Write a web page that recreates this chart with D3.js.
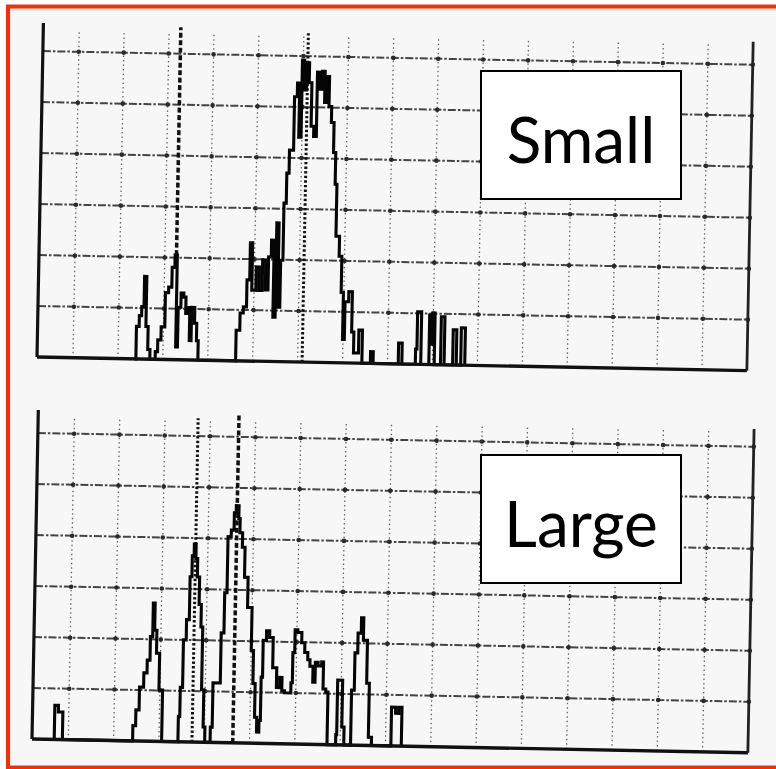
<!DOCTYPE html>
<html>
<head>
<meta charset="utf-8">
<script src="https://cdn.jsdelivr.net/npm/d3@7"></script>
<style>
  html, body { margin: 0; padding: 0; background: #fff; }
  svg { display: block; }
</style>
</head>
<body>
<svg id="chart" width="776" height="769"></svg>
<script>
// step histogram points (x = channel, y = counts)
const smallX = [13.7, 14.0, 14.6, 15.1, 15.6, 16.1, 16.6, 17.1,
  18.1, 18.3, 18.8, 19.5, 20.3, 21.0, 21.7, 22.3, 22.8, 23.2, 23.8, 24.4, 24.9, 25.3, 25.8, 26.2, 26.9, 27.4, 27.8,
  36.0, 36.2, 37.0, 37.7, 38.4, 39.0, 39.5, 40.4, 41.1, 41.8, 42.5, 43.1, 43.7, 44.3, 44.8, 45.3, 45.8, 46.3, 46.8, 47.3,
  48.2, 48.8, 49.3, 49.8, 50.3, 50.8, 51.4, 52.0, 52.6, 53.2, 53.8, 54.3, 54.9, 55.4, 55.9, 56.5, 57.1, 57.6, 58.0, 58.8,
  59.4, 59.9, 60.3, 61.1, 61.9, 62.4, 63.5, 64.3,
  66.2, 66.8, 72.4, 73.2, 76.2, 76.5, 77.4, 79.2, 79.6, 79.9, 80.4, 81.8, 82.6, 84.5, 85.3, 86.3, 87.2];
const smallY = [0, 6.4, 8.5, 10.3, 16.2, 6.4, 1.9, 0,
  0, 1.5, 3.8, 6.4, 13.1, 14.2, 18.1, 20.5, 2.5, 10.3, 13.1, 12.3, 9.1, 10.3, 3.8, 10.3, 7.2, 3.8, 0,
  0, 6.0, 9.4, 10.6, 15.9, 23.2, 13.9, 18.5, 13.9, 19.9, 14.0, 20.5, 23.8, 8.7, 27.2, 10.7, 19.9, 31.1, 37.0, 41.5,
  52.0, 54.7, 44.1, 59.2, 53.4, 58.7, 54.8, 46.3, 44.3, 56.9, 53.6, 57.1, 51.0, 56.1, 50.2, 47.1, 41.2, 35.0, 24.8, 20.9,
  13.8, 4.6, 12.0, 14.0, 6.1, 2.0, 6.5, 0,
  2.3, 0, 4.1, 0, 3.0, 10.3, 0, 9.7, 4.0, 10.1, 0, 9.4, 0, 6.9, 0, 7.3, 0];

const largeX = [-3.4, -3.1, -2.3, -1.3,
  14.0, 14.2, 14.8, 15.5, 16.4, 17.1, 17.7, 18.2, 18.6, 19.1, 19.8, 20.6,
  24.0, 24.2, 24.5, 25.0, 25.6, 26.2, 26.6, 27.0, 27.4, 27.8, 28.3, 28.8, 29.2, 29.7, 30.1,
  31.1, 31.3, 31.7, 33.3, 33.9, 34.4, 35.1, 35.7, 36.1, 36.7, 37.0, 37.6, 38.2, 39.0, 40.0, 40.5, 41.0, 41.5, 42.0, 42.3,
  42.6, 43.3, 44.0, 44.8, 45.7, 46.4, 46.9, 47.5, 48.9, 49.2, 49.6, 50.2, 51.1, 51.8, 52.5, 53.0, 53.7, 54.2, 54.8, 55.6,
  56.0, 56.6, 57.1,
  58.8, 59.0, 59.2, 60.3, 60.8,
  62.0, 62.3, 62.9, 63.5, 64.2, 64.7, 65.6, 66.2, 66.9,
  71.0, 71.2, 72.1, 72.8, 73.5];
const largeY = [0, 6.7, 5.4, 0,
  0, 3.0, 6.1, 10.6, 13.4, 15.9, 20.5, 27.1, 21.8, 17.3, 10.1, 0,
  0, 5.0, 10.7, 20.0, 24.0, 32.4, 36.5, 38.8, 36.0, 32.4, 27.0, 22.6, 10.3, 3.0, 0,
  0, 3.0, 11.7, 21.5, 29.4, 40.4, 41.7, 45.1, 46.5, 44.0, 41.2, 38.4, 32.5, 26.6, 18.2, 11.7, 5.1, 2.2, 4.5, 13.0,
  20.2, 22.1, 20.8, 14.9, 11.0, 13.0, 10.4, 10.0, 12.0, 17.9, 22.4, 21.9, 19.9, 18.0, 16.6, 15.3, 12.2, 16.1, 15.4, 16.2,
  10.9, 10.3, 0,
  0, 2.0, 12.7, 3.5, 0,
  0, 10.8, 18.1, 22.0, 25.0, 20.6, 12.2, 1.6, 0,
  0, 7.6, 6.4, 7.6, 0];

// vertical marker lines: [dashed, dotted]
const smallMarks = [22.6, 51.0];
const largeMarks = [36.3, 27.3];

const gridX = [0, 10, 20, 30, 40, 50, 60, 70, 80, 90, 100, 110, 120, 130, 140];
const gridY = [10, 20, 30, 40, 50, 60];
const labels = ['Small', 'Large'];

const svg = d3.select('#chart');
const tilt = 1.1; // the scan is slightly rotated

svg.append('rect')
  .attr('x', 8).attr('y', 6.5).attr('width', 800).attr('height', 761)
  .attr('fill', '#f7f7f7')
  .attr('stroke', '#ff2a00')
  .attr('stroke-width', 4);

function stepAt(xs, ys, v) {
  let k = 0;
  for (let i = 0; i < xs.length; i++) if (xs[i] <= v) k = i;
  return ys[k];
}

function panel(cfg) {
  const W = cfg.w, H = cfg.h;
  const x = d3.scaleLinear().domain([-8, 150]).range([0, W]);
  const y = d3.scaleLinear().domain([0, cfg.yMax]).range([H, 0]);

  const g = svg.append('g')
    .attr('transform', `translate(${cfg.ox},${cfg.oy}) rotate(${tilt}) translate(0,${-H})`);

  // vertical grid (dotted)
  g.append('g').selectAll('line').data(gridX).join('line')
    .attr('x1', d => x(d)).attr('x2', d => x(d))
    .attr('y1', y(0)).attr('y2', y(cfg.yMax - 1.5))
    .attr('stroke', '#666').attr('stroke-width', 1.3)
    .attr('stroke-dasharray', '1.5,3');

  // horizontal grid (dash-dot)
  g.append('g').selectAll('line').data(gridY).join('line')
    .attr('x1', x(-8)).attr('x2', x(150))
    .attr('y1', d => y(d)).attr('y2', d => y(d))
    .attr('stroke', '#444').attr('stroke-width', 2)
    .attr('stroke-dasharray', '8,2,2.5,2');

  // dots where the grid crosses
  const pts = [];
  gridY.forEach(v => gridX.concat([150]).forEach(u => pts.push([u, v])));
  g.append('g').selectAll('circle').data(pts).join('circle')
    .attr('cx', d => x(d[0])).attr('cy', d => y(d[1]))
    .attr('r', 2.3).attr('fill', '#2a2a2a');

  // axes
  g.append('line')
    .attr('x1', x(-8)).attr('x2', x(-8)).attr('y1', y(0)).attr('y2', y(cfg.yMax))
    .attr('stroke', '#111').attr('stroke-width', 3.2);
  g.append('line')
    .attr('x1', x(150)).attr('x2', x(150)).attr('y1', y(0)).attr('y2', y(cfg.yMax - 1))
    .attr('stroke', '#222').attr('stroke-width', 2.8);

  // marker lines
  const [dashX, dotX] = cfg.marks;
  g.append('line')
    .attr('x1', x(dashX)).attr('x2', x(dashX))
    .attr('y1', cfg.dashToCurve ? y(stepAt(cfg.xs, cfg.ys, dashX)) : y(0))
    .attr('y2', y(cfg.yMax - 0.3))
    .attr('stroke', '#111').attr('stroke-width', 3.5)
    .attr('stroke-dasharray', '5,2.5');
  g.append('line')
    .attr('x1', x(dotX)).attr('x2', x(dotX))
    .attr('y1', y(0)).attr('y2', y(cfg.yMax - 1))
    .attr('stroke', '#111').attr('stroke-width', 3)
    .attr('stroke-dasharray', '2.4,2.2');

  // histogram outline
  const line = d3.line()
    .x(i => x(cfg.xs[i]))
    .y(i => y(cfg.ys[i]))
    .curve(d3.curveStepAfter);
  g.append('path')
    .datum(d3.range(cfg.xs.length))
    .attr('d', line)
    .attr('fill', 'none')
    .attr('stroke', '#050505')
    .attr('stroke-width', 3.1)
    .attr('stroke-linejoin', 'miter');

  // baseline
  g.append('line')
    .attr('x1', x(-8)).attr('x2', x(150)).attr('y1', y(0)).attr('y2', y(0))
    .attr('stroke', '#111').attr('stroke-width', 3.4);

  // label box
  svg.append('rect')
    .attr('x', 481).attr('y', cfg.boxY).attr('width', 200).attr('height', 128)
    .attr('fill', '#fff').attr('stroke', '#000').attr('stroke-width', 2);
  svg.append('text')
    .attr('x', 581).attr('y', cfg.boxY + 92)
    .attr('text-anchor', 'middle')
    .attr('font-family', 'Lato, "Open Sans", sans-serif')
    .attr('font-size', 64)
    .attr('fill', '#000')
    .text(cfg.label);
}

panel({ ox: 37, oy: 357, w: 710, h: 334, yMax: 65.5, xs: smallX, ys: smallY,
  marks: smallMarks, dashToCurve: true, boxY: 71, label: labels[0] });
panel({ ox: 32, oy: 739, w: 716, h: 329, yMax: 64.5, xs: largeX, ys: largeY,
  marks: largeMarks, dashToCurve: false, boxY: 455, label: labels[1] });
</script>
</body>
</html>
